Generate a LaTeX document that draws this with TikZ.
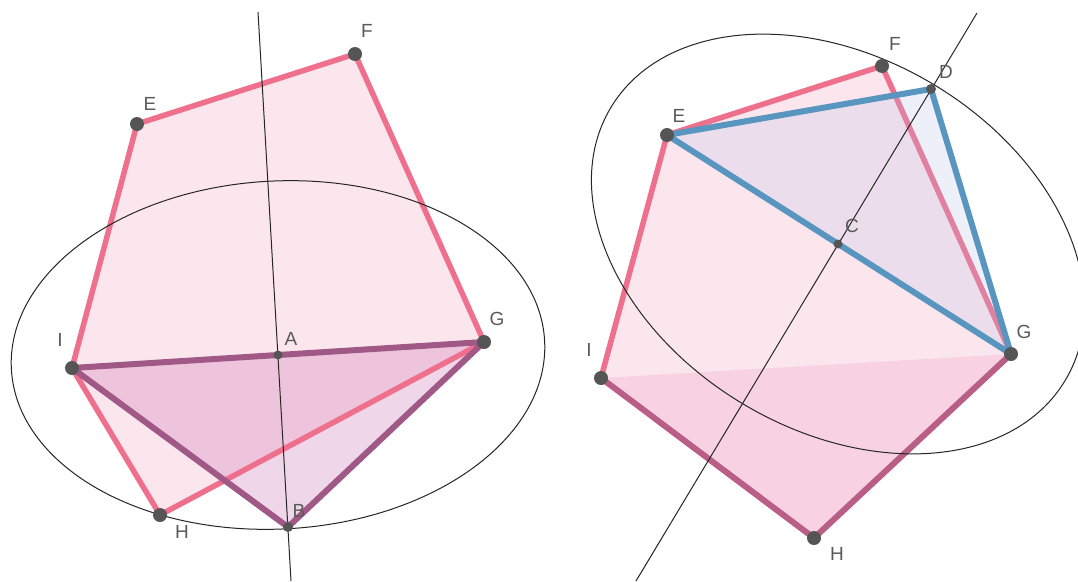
\documentclass[tikz,border=0pt]{standalone}
\usepackage{fontspec}
\setmainfont{Liberation Sans}
\definecolor{pinkedge}{RGB}{238,112,140}
\definecolor{purpedge}{RGB}{160,88,135}
\definecolor{mauveedge}{RGB}{185,95,135}
\definecolor{blueedge}{RGB}{88,150,192}
\definecolor{dotc}{RGB}{85,85,85}
\definecolor{labc}{RGB}{90,90,90}
\definecolor{pentfill}{RGB}{252,230,238}
\definecolor{trifill}{RGB}{205,120,180}
\definecolor{lowfill}{RGB}{240,165,200}
\definecolor{bluefill}{RGB}{180,190,230}
\begin{document}
\begin{tikzpicture}[x=1pt,y=-1pt,
  pinkline/.style={draw=pinkedge,line width=5.5pt,line join=round,line cap=round},
  purpline/.style={draw=purpedge,line width=6pt,line join=round,line cap=round},
  mauveline/.style={draw=mauveedge,line width=6pt,line join=round,line cap=round},
  blueline/.style={draw=blueedge,line width=6pt,line join=round,line cap=round},
  thin/.style={draw=black!85,line width=1pt},
  bigdot/.style={circle,fill=dotc,inner sep=0pt,minimum size=14pt},
  smalldot/.style={circle,fill=dotc,inner sep=0pt,minimum size=9pt},
  lab/.style={text=labc,inner sep=0pt,font=\fontsize{19}{19}\selectfont}]
\useasboundingbox (0,0) rectangle (1078,581);
\fill[white] (0,0) rectangle (1078,581);

% ---------- left figure ----------
\coordinate (lE) at (137,124);
\coordinate (lF) at (355,54);
\coordinate (lG) at (484,342);
\coordinate (lH) at (160,515);
\coordinate (lI) at (72,368);
\coordinate (lA) at (278,355);
\coordinate (lB) at (288,527);
\coordinate (lT) at (258,12);
\coordinate (lU) at (291,581);

\fill[pentfill] (lE) -- (lF) -- (lG) -- (lH) -- (lI) -- cycle;
\fill[trifill,opacity=0.3] (lI) -- (lG) -- (lB) -- cycle;
\draw[pinkline] (lE) -- (lF) -- (lG) -- (lH) -- (lI) -- cycle;
\draw[purpline] (lI) -- (lG) -- (lB) -- cycle;
\draw[thin] (lT) -- (lU);
\draw[thin,rotate around={3:(lA)}] (lA) ellipse (267pt and 174pt);

\node[bigdot] (dlE) at (lE) {};
\node[bigdot] (dlF) at (lF) {};
\node[bigdot] (dlG) at (lG) {};
\node[bigdot] (dlH) at (lH) {};
\node[bigdot] (dlI) at (lI) {};
\node[smalldot] (dlA) at (lA) {};
\node[smalldot,minimum size=10pt] (dlB) at (lB) {};

\node[lab] (tlE) at (150,104) {E};
\node[lab] (tlF) at (367,31) {F};
\node[lab] (tlG) at (497,319) {G};
\node[lab] (tlI) at (60,340) {I};
\node[lab] (tlA) at (291,339) {A};
\node[lab] (tlH) at (182,532) {H};
\node[lab] (tlB) at (299,511) {B};

% ---------- right figure ----------
\coordinate (rE) at (667,135);
\coordinate (rF) at (882,66);
\coordinate (rG) at (1011,354);
\coordinate (rH) at (814,538);
\coordinate (rI) at (601,378);
\coordinate (rC) at (838,244);
\coordinate (rD) at (931,89);
\coordinate (rT) at (977,13);
\coordinate (rU) at (636,581);

\fill[pentfill] (rE) -- (rF) -- (rG) -- (rH) -- (rI) -- cycle;
\fill[lowfill,opacity=0.3] (rI) -- (rG) -- (rH) -- cycle;
\draw[pinkline] (rI) -- (rE) -- (rF) -- (rG);
\fill[bluefill,opacity=0.22] (rE) -- (rD) -- (rG) -- cycle;
\draw[mauveline] (rG) -- (rH) -- (rI);
\draw[blueline] (rE) -- (rD) -- (rG) -- cycle;
\draw[thin] (rT) -- (rU);
\draw[thin,rotate around={-31:(rC)}] (rC) ellipse (265pt and 186pt);

\node[bigdot] (drE) at (rE) {};
\node[bigdot] (drF) at (rF) {};
\node[bigdot] (drG) at (rG) {};
\node[bigdot] (drH) at (rH) {};
\node[bigdot] (drI) at (rI) {};
\node[smalldot] (drC) at (rC) {};
\node[smalldot,minimum size=10pt] (drD) at (rD) {};

\node[lab] (trF) at (895,44) {F};
\node[lab] (trD) at (946,72) {D};
\node[lab] (trE) at (679,116) {E};
\node[lab] (trC) at (852,226) {C};
\node[lab] (trG) at (1024,332) {G};
\node[lab] (trI) at (589,350) {I};
\node[lab] (trH) at (837,554) {H};
\end{tikzpicture}
\end{document}
